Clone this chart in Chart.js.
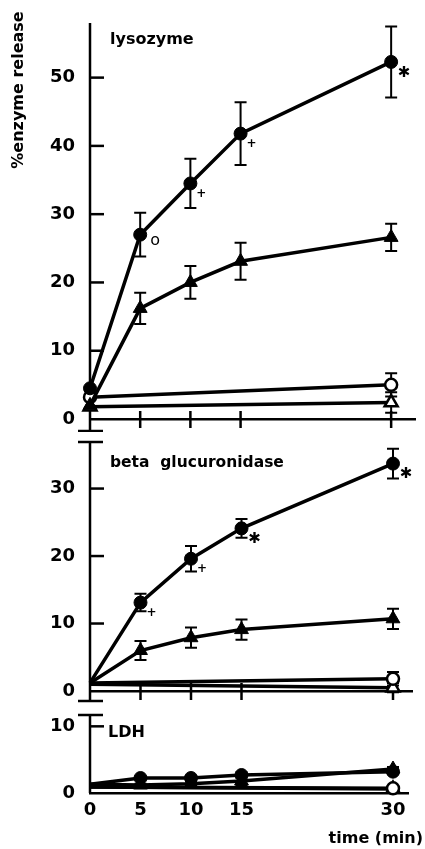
<!DOCTYPE html>
<html>
<head>
<meta charset="utf-8">
<script src="https://cdn.jsdelivr.net/npm/chart.js@4"></script>
<style>
  body { margin: 0; background: #fff; }
  #wrap { position: relative; width: 425px; height: 849px; }
  #wrap canvas { position: absolute; left: 0; }
</style>
</head>
<body>
<div id="wrap">
  <canvas id="lysoCanvas"></canvas>
  <canvas id="glucCanvas"></canvas>
  <canvas id="ldhCanvas"></canvas>
</div>
<script>
// incubation times (min)
var times = [0, 5, 10, 15, 30];
var xTicks = [0, 5, 10, 15, 30];

// lysozyme
var lysoYTicks = [0, 10, 20, 30, 40, 50];
var lysoCircle = [4.5, 27.0, 34.5, 41.8, 52.3];
var lysoCircleErr = [0, 3.2, 3.6, 4.6, 5.2];
var lysoTriangle = [2.0, 16.2, 20.0, 23.1, 26.6];
var lysoTriangleErr = [0, 2.3, 2.4, 2.7, 2.0];
var lysoOpenCircle = [3.2, null, null, null, 5.0];
var lysoOpenCircleErr = [0, 0, 0, 0, 1.7];
var lysoOpenTriangle = [1.8, null, null, null, 2.4];
var lysoOpenTriangleErr = [0, 0, 0, 0, 1.5];
var lysoSig = ['', 'o', '+', '+', '\u2731'];

// beta glucuronidase
var glucYTicks = [0, 10, 20, 30];
var glucCircle = [1.2, 13.1, 19.6, 24.1, 33.7];
var glucCircleErr = [0, 1.3, 1.9, 1.4, 2.2];
var glucTriangle = [1.2, 6.0, 7.9, 9.1, 10.7];
var glucTriangleErr = [0, 1.4, 1.5, 1.5, 1.5];
var glucOpenCircle = [1.2, null, null, null, 1.8];
var glucOpenCircleErr = [0, 0, 0, 0, 1.0];
var glucOpenTriangle = [1.0, null, null, null, 0.5];
var glucOpenTriangleErr = [0, 0, 0, 0, 0.7];
var glucSig = ['', '+', '+', '\u2731', '\u2731'];

// LDH
var ldhYTicks = [0, 10];
var ldhCircle = [1.3, 2.25, 2.25, 2.7, 3.2];
var ldhCircleErr = [0, 0.3, 0.3, 0.4, 0.4];
var ldhTriangle = [1.3, 1.2, 1.4, 1.8, 3.6];
var ldhTriangleErr = [0, 0.2, 0.3, 0.7, 0.3];
var ldhOpenCircle = [0.9, null, null, null, 0.7];
var ldhOpenTriangle = [0.9, null, null, null, 0.6];
var noErr = [0, 0, 0, 0, 0];

var FONT = 'DejaVu Sans';

var filledCircle = { style: 'circle', r: 6.5, fill: '#000' };
var filledTriangle = { style: 'triangle', r: 8, fill: '#000' };
var openCircle = { style: 'circle', r: 6, fill: '#fff' };
var openTriangle = { style: 'triangle', r: 7.5, fill: '#fff' };

function series(vals, err, sig, look, dotAtZero) {
  var data = [];
  vals.forEach(function (v, i) {
    if (v === null) return;
    data.push({ x: times[i], y: v, err: err[i], sig: sig ? sig[i] : '' });
  });
  return {
    data: data,
    borderColor: '#000',
    borderWidth: 3.5,
    tension: 0,
    clip: false,
    pointStyle: look.style,
    pointBackgroundColor: look.fill,
    pointBorderColor: '#000',
    pointBorderWidth: look.fill === '#fff' ? 2.5 : 1,
    pointRadius: data.map(function (p) { return (p.x === 0 && !dotAtZero) ? 0 : look.r; })
  };
}

// error bars, axis line with break marks, inward y ticks, crossing x ticks, labels
var marks = {
  id: 'marks',
  beforeDatasetsDraw: function (chart, args, o) {
    var ctx = chart.ctx, a = chart.chartArea, xs = chart.scales.x, ys = chart.scales.y;
    ctx.save();
    ctx.strokeStyle = '#000';
    ctx.lineCap = 'butt';

    // y axis line
    ctx.lineWidth = 2.5;
    ctx.beginPath();
    ctx.moveTo(a.left, a.top);
    ctx.lineTo(a.left, a.bottom + (o.breakBelow || 0));
    ctx.stroke();
    var bars = [];
    if (o.breakBelow) bars.push(a.bottom + o.breakBelow);
    if (o.breakAbove) bars.push(a.top);
    bars.forEach(function (by) {
      ctx.beginPath();
      ctx.moveTo(a.left - 12, by);
      ctx.lineTo(a.left + 13, by);
      ctx.stroke();
    });

    // y ticks pointing into the plot
    ys.ticks.forEach(function (t) {
      if (t.value === 0) return;
      var py = ys.getPixelForValue(t.value);
      ctx.beginPath();
      ctx.moveTo(a.left, py);
      ctx.lineTo(a.left + 14, py);
      ctx.stroke();
    });

    // x ticks crossing the axis
    if (o.crossTicks) {
      xTicks.forEach(function (t) {
        if (t === 0) return;
        var px = xs.getPixelForValue(t);
        ctx.beginPath();
        ctx.moveTo(px, a.bottom - 8);
        ctx.lineTo(px, a.bottom + 9);
        ctx.stroke();
      });
    }

    // error bars
    ctx.lineWidth = 2;
    chart.data.datasets.forEach(function (ds, di) {
      var meta = chart.getDatasetMeta(di);
      ds.data.forEach(function (p, i) {
        if (!p.err) return;
        var px = meta.data[i].x;
        var hi = ys.getPixelForValue(p.y + p.err);
        var lo = ys.getPixelForValue(p.y - p.err);
        ctx.beginPath();
        ctx.moveTo(px, hi); ctx.lineTo(px, lo);
        ctx.moveTo(px - 6, hi); ctx.lineTo(px + 6, hi);
        ctx.moveTo(px - 6, lo); ctx.lineTo(px + 6, lo);
        ctx.stroke();
      });
    });
    ctx.restore();
  },
  afterDatasetsDraw: function (chart, args, o) {
    var ctx = chart.ctx;
    ctx.save();
    ctx.fillStyle = '#000';
    ctx.textAlign = 'center';
    ctx.textBaseline = 'middle';
    chart.data.datasets.forEach(function (ds, di) {
      var meta = chart.getDatasetMeta(di);
      ds.data.forEach(function (p, i) {
        if (!p.sig) return;
        var el = meta.data[i];
        if (p.sig === 'o') {
          ctx.font = '16px "' + FONT + '"';
          ctx.fillText(p.sig, el.x + 15, el.y + 6);
        } else if (p.sig === '+') {
          ctx.font = 'bold 12px "' + FONT + '"';
          ctx.fillText(p.sig, el.x + 11, el.y + 10);
        } else {
          ctx.font = 'bold 15px "' + FONT + '"';
          ctx.fillText(p.sig, el.x + 13, el.y + 11);
        }
      });
    });
    (o.texts || []).forEach(function (t) {
      ctx.save();
      ctx.font = 'bold ' + t.size + 'px "' + FONT + '"';
      ctx.textAlign = t.align || 'left';
      ctx.translate(t.x, t.y);
      if (t.rotate) ctx.rotate(-Math.PI / 2);
      ctx.fillText(t.text, 0, 0);
      ctx.restore();
    });
    ctx.restore();
  }
};

function panel(id, top, height, o) {
  var canvas = document.getElementById(id);
  canvas.width = 425;
  canvas.height = height;
  canvas.style.top = top + 'px';
  var tickFont = { family: FONT, weight: 'bold', size: 18 };
  return new Chart(canvas, {
    type: 'line',
    data: { datasets: o.datasets },
    options: {
      responsive: false,
      animation: false,
      events: [],
      layout: { padding: { top: o.areaTop, right: 425 - o.areaRight, left: 0, bottom: 0 } },
      plugins: {
        legend: { display: false },
        tooltip: { enabled: false },
        marks: { breakBelow: o.breakBelow, breakAbove: o.breakAbove, crossTicks: !o.showX, texts: o.texts }
      },
      scales: {
        x: {
          type: 'linear',
          min: 0,
          max: 30 * (o.areaRight - 90) / 303,
          afterBuildTicks: function (s) { s.ticks = xTicks.map(function (v) { return { value: v }; }); },
          afterFit: function (s) { s.height = height - o.areaBottom; s.paddingLeft = 0; s.paddingRight = 0; },
          grid: { display: false, drawTicks: false },
          border: { display: true, color: '#000', width: 2.5 },
          ticks: { display: o.showX, padding: 7, color: '#000', font: tickFont, maxRotation: 0 }
        },
        y: {
          min: 0,
          max: o.yMax,
          afterBuildTicks: function (s) { s.ticks = o.yTicks.map(function (v) { return { value: v }; }); },
          afterFit: function (s) { s.width = 90; s.paddingTop = 0; s.paddingBottom = 0; },
          grid: { display: false, drawTicks: false },
          border: { display: false },
          ticks: { padding: 15, color: '#000', font: tickFont }
        }
      }
    },
    plugins: [marks]
  });
}

panel('lysoCanvas', 0, 432, {
  areaTop: 23, areaBottom: 419, areaRight: 417, yMax: 58, yTicks: lysoYTicks,
  showX: false, breakBelow: 12,
  texts: [
    { text: 'lysozyme', x: 110, y: 40, size: 16 },
    { text: '%enzyme release', x: 19, y: 90, size: 16, rotate: true, align: 'center' }
  ],
  datasets: [
    series(lysoCircle, lysoCircleErr, lysoSig, filledCircle, true),
    series(lysoTriangle, lysoTriangleErr, null, filledTriangle, true),
    series(lysoOpenCircle, lysoOpenCircleErr, null, openCircle, true),
    series(lysoOpenTriangle, lysoOpenTriangleErr, null, openTriangle, true)
  ]
});

panel('glucCanvas', 432, 273, {
  areaTop: 8, areaBottom: 259, areaRight: 412, yMax: 36.9, yTicks: glucYTicks,
  showX: false, breakBelow: 10, breakAbove: true,
  texts: [{ text: 'beta  glucuronidase', x: 110, y: 31, size: 15.5 }],
  datasets: [
    series(glucCircle, glucCircleErr, glucSig, filledCircle, false),
    series(glucTriangle, glucTriangleErr, null, filledTriangle, false),
    series(glucOpenCircle, glucOpenCircleErr, null, openCircle, false),
    series(glucOpenTriangle, glucOpenTriangleErr, null, openTriangle, false)
  ]
});

panel('ldhCanvas', 705, 144, {
  areaTop: 5, areaBottom: 88, areaRight: 408, yMax: 11.7, yTicks: ldhYTicks,
  showX: true, breakAbove: true,
  texts: [
    { text: 'LDH', x: 108, y: 28, size: 16 },
    { text: 'time (min)', x: 423, y: 134, size: 16, align: 'right' }
  ],
  datasets: [
    series(ldhCircle, ldhCircleErr, null, filledCircle, false),
    series(ldhTriangle, ldhTriangleErr, null, filledTriangle, false),
    series(ldhOpenCircle, noErr, null, openCircle, false),
    series(ldhOpenTriangle, noErr, null, openTriangle, false)
  ]
});
</script>
</body>
</html>
